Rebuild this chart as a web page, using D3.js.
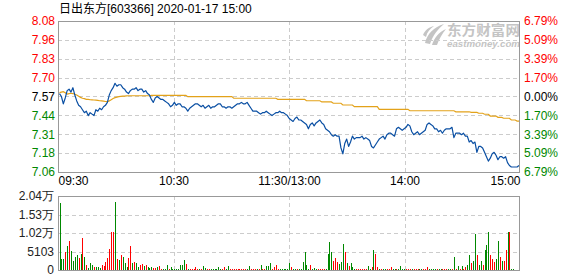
<!DOCTYPE html>
<html>
<head>
<meta charset="utf-8">
<script src="https://cdn.jsdelivr.net/npm/d3@7"></script>
<style>
body { margin: 0; background: #fff; }
svg { display: block; font-family: Arial, "Liberation Sans", "Noto Sans CJK SC", sans-serif; }
</style>
</head>
<body>
<svg width="578" height="276"></svg>
<script>
var title = "日出东方[603366] 2020-01-17 15:00";
var preClose = 7.57;
var priceRange = 0.514;
var priceLabels = ["8.08", "7.96", "7.83", "7.70", "7.57", "7.44", "7.31", "7.18", "7.06"];
var pctLabels = ["6.79%", "5.09%", "3.39%", "1.70%", "0.00%", "1.70%", "3.39%", "5.09%", "6.79%"];
var timeMinutes = [0, 60, 120, 180, 240];
var timeLabels = ["09:30", "10:30", "11:30/13:00", "14:00", "15:00"];
var volMax = 20412;
var volLabels = ["2.04万", "1.53万", "1.02万", "5103", "0"];

// one value per minute, 09:30 .. 15:00
var prices = [
  7.59, 7.57, 7.52, 7.56, 7.61, 7.62, 7.60, 7.63, 7.58, 7.54,
  7.51, 7.50, 7.48, 7.46, 7.47, 7.44, 7.46, 7.45, 7.44, 7.48,
  7.47, 7.49, 7.48, 7.50, 7.51, 7.53, 7.58, 7.61, 7.63, 7.66,
  7.64, 7.65, 7.65, 7.63, 7.62, 7.60, 7.59, 7.61, 7.62, 7.62,
  7.63, 7.61, 7.62, 7.62, 7.60, 7.61, 7.59, 7.58, 7.55, 7.53,
  7.56, 7.57, 7.56, 7.55, 7.55, 7.54, 7.53, 7.52, 7.50, 7.51,
  7.53, 7.51, 7.52, 7.52, 7.50, 7.50, 7.49, 7.47, 7.49, 7.50,
  7.51, 7.52, 7.52, 7.51, 7.50, 7.51, 7.49, 7.50, 7.51, 7.49,
  7.50, 7.50, 7.51, 7.52, 7.52, 7.50, 7.50, 7.49, 7.50, 7.50,
  7.49, 7.50, 7.51, 7.52, 7.52, 7.53, 7.52, 7.52, 7.53, 7.51,
  7.49, 7.47, 7.47, 7.47, 7.46, 7.45, 7.46, 7.46, 7.47, 7.46,
  7.45, 7.44, 7.45, 7.46, 7.46, 7.47, 7.46, 7.46, 7.45, 7.44,
  7.42, 7.41, 7.40, 7.42, 7.43, 7.41, 7.41, 7.40, 7.39, 7.38,
  7.35, 7.38, 7.39, 7.37, 7.39, 7.40, 7.41, 7.39, 7.38, 7.35,
  7.34, 7.33, 7.31, 7.30, 7.31, 7.30, 7.30, 7.22, 7.18, 7.25,
  7.28, 7.23, 7.26, 7.30, 7.28, 7.29, 7.29, 7.29, 7.30, 7.28,
  7.29, 7.28, 7.27, 7.23, 7.22, 7.24, 7.26, 7.28, 7.29, 7.30,
  7.28, 7.31, 7.32, 7.32, 7.31, 7.30, 7.35, 7.36, 7.35, 7.34,
  7.35, 7.36, 7.38, 7.37, 7.33, 7.31, 7.32, 7.33, 7.31, 7.32,
  7.33, 7.34, 7.38, 7.39, 7.38, 7.37, 7.35, 7.35, 7.33, 7.34,
  7.32, 7.34, 7.35, 7.35, 7.35, 7.36, 7.29, 7.32, 7.32, 7.32,
  7.31, 7.32, 7.30, 7.30, 7.26, 7.27, 7.25, 7.26, 7.19, 7.23,
  7.23, 7.22, 7.19, 7.16, 7.13, 7.15, 7.18, 7.19, 7.17, 7.14,
  7.16, 7.16, 7.15, 7.16, 7.12, 7.10, 7.09, 7.09, 7.09, 7.09,
  7.10
];

var avgPrices = [
  7.596, 7.600, 7.603, 7.595, 7.587, 7.590, 7.592, 7.590, 7.585, 7.580,
  7.572, 7.564, 7.558, 7.555, 7.551, 7.550, 7.548, 7.547, 7.546, 7.545,
  7.543, 7.541, 7.540, 7.538, 7.536, 7.535, 7.540, 7.548, 7.556, 7.562,
  7.566, 7.569, 7.571, 7.572, 7.573, 7.574, 7.575, 7.575, 7.575, 7.575,
  7.575, 7.575, 7.575, 7.575, 7.575, 7.575, 7.575, 7.575, 7.578, 7.578,
  7.578, 7.578, 7.578, 7.578, 7.578, 7.578, 7.578, 7.578, 7.578, 7.578,
  7.578, 7.578, 7.578, 7.578, 7.578, 7.578, 7.578, 7.569, 7.569, 7.569,
  7.569, 7.569, 7.569, 7.569, 7.569, 7.569, 7.569, 7.569, 7.569, 7.569,
  7.569, 7.569, 7.569, 7.569, 7.569, 7.569, 7.569, 7.569, 7.569, 7.569,
  7.569, 7.558, 7.558, 7.558, 7.558, 7.558, 7.558, 7.558, 7.558, 7.558,
  7.558, 7.558, 7.558, 7.558, 7.558, 7.558, 7.558, 7.558, 7.558, 7.558,
  7.558, 7.558, 7.558, 7.558, 7.551, 7.551, 7.551, 7.551, 7.551, 7.551,
  7.551, 7.551, 7.551, 7.551, 7.551, 7.551, 7.551, 7.551, 7.551, 7.541,
  7.541, 7.541, 7.541, 7.541, 7.541, 7.541, 7.541, 7.533, 7.533, 7.533,
  7.533, 7.533, 7.533, 7.524, 7.524, 7.524, 7.524, 7.524, 7.512, 7.512,
  7.512, 7.512, 7.512, 7.512, 7.501, 7.501, 7.501, 7.501, 7.501, 7.501,
  7.501, 7.501, 7.501, 7.501, 7.501, 7.501, 7.501, 7.483, 7.483, 7.483,
  7.483, 7.483, 7.483, 7.483, 7.483, 7.483, 7.483, 7.483, 7.483, 7.483,
  7.483, 7.483, 7.483, 7.473, 7.473, 7.473, 7.473, 7.473, 7.473, 7.473,
  7.473, 7.473, 7.473, 7.473, 7.473, 7.473, 7.473, 7.473, 7.473, 7.473,
  7.473, 7.473, 7.473, 7.473, 7.473, 7.473, 7.473, 7.466, 7.466, 7.466,
  7.466, 7.466, 7.466, 7.466, 7.466, 7.462, 7.462, 7.462, 7.462, 7.456,
  7.456, 7.456, 7.449, 7.449, 7.449, 7.437, 7.437, 7.437, 7.437, 7.428,
  7.428, 7.428, 7.422, 7.422, 7.422, 7.422, 7.410, 7.410, 7.410, 7.403,
  7.403
];

var volumes = [
  18560, 3030, 3030, 5050, 6620, 8090, 5240, 2570, 3680, 4140,
  3220, 4410, 8920, 3680, 1380, 550, 2020, 1380, 740, 740,
  740, 600, 1380, 1100, 2300, 3220, 5700, 10570, 10570, 18850,
  3030, 2760, 4140, 3490, 2020, 740, 3220, 6620, 1840, 2300,
  2020, 920, 1380, 1650, 1100, 1380, 920, 500, 740, 550,
  550, 740, 1100, 370, 370, 370, 1380, 370, 740, 370,
  370, 370, 370, 1380, 1380, 2760, 1650, 370, 400, 370,
  370, 740, 370, 370, 370, 1100, 550, 370, 370, 370,
  370, 370, 370, 740, 370, 370, 740, 370, 1100, 370,
  370, 370, 370, 370, 370, 370, 370, 300, 370, 1100,
  370, 370, 370, 370, 370, 1290, 370, 370, 1100, 1100,
  1840, 370, 740, 1380, 370, 370, 370, 300, 370, 370,
  1840, 740, 300, 300, 300, 300, 300, 2290, 5050, 1380,
  300, 1380, 300, 650, 300, 300, 300, 300, 300, 300,
  4410, 7800, 5050, 2570, 3220, 2300, 1650, 2300, 7170, 4960,
  1840, 1100, 1840, 740, 300, 300, 300, 300, 300, 300,
  300, 1100, 300, 740, 5520, 4410, 740, 300, 400, 300,
  300, 400, 300, 740, 300, 300, 400, 300, 1100, 300,
  300, 300, 300, 300, 400, 300, 300, 300, 300, 300,
  300, 300, 740, 300, 400, 300, 300, 300, 300, 400,
  300, 300, 300, 300, 300, 300, 3680, 400, 1100, 300,
  1100, 400, 920, 1380, 4140, 2020, 2570, 9930, 4140, 1380,
  2570, 1380, 5520, 6900, 10400, 4140, 3030, 2300, 3030, 8000,
  3680, 2570, 2570, 5520, 10400, 10400, 300, 300, 0, 0,
  10300
];

// 1 = red (up), 0 = green (down)
var volUp = [
  0, 0, 0, 1, 0, 1, 0, 0, 0, 0,
  1, 0, 1, 0, 1, 0, 0, 0, 1, 0,
  0, 0, 1, 1, 1, 1, 1, 1, 1, 0,
  1, 0, 1, 0, 0, 0, 1, 1, 0, 1,
  0, 0, 1, 1, 0, 1, 0, 0, 0, 1,
  1, 0, 1, 1, 0, 0, 0, 1, 0, 0,
  0, 0, 0, 0, 0, 0, 1, 0, 1, 1,
  1, 1, 1, 0, 1, 0, 0, 1, 1, 0,
  0, 0, 0, 0, 0, 1, 1, 0, 0, 1,
  1, 1, 1, 1, 1, 1, 1, 1, 0, 0,
  1, 1, 1, 0, 1, 0, 1, 1, 0, 0,
  0, 1, 1, 1, 1, 0, 0, 0, 0, 0,
  0, 1, 0, 0, 1, 0, 0, 0, 0, 0,
  0, 1, 0, 0, 0, 1, 1, 1, 1, 0,
  0, 0, 0, 1, 1, 1, 0, 0, 0, 1,
  0, 1, 0, 0, 0, 1, 1, 1, 1, 1,
  1, 0, 0, 1, 0, 1, 1, 0, 1, 0,
  0, 1, 1, 1, 0, 0, 1, 0, 0, 0,
  0, 1, 1, 1, 0, 1, 1, 1, 0, 0,
  1, 1, 1, 0, 0, 0, 0, 1, 0, 0,
  1, 1, 1, 0, 0, 1, 0, 1, 0, 1,
  0, 1, 1, 0, 0, 1, 0, 0, 1, 0,
  0, 1, 0, 0, 0, 1, 1, 1, 0, 0,
  1, 0, 1, 1, 0, 1, 0, 0, 0, 0,
  1
];

var svg = d3.select("svg");
var left = 58, right = 520, pTop = 21, pBottom = 172, vTop = 196, vBottom = 270;
var red = "#f00", green = "#080", grid = "#ccc", frame = "#999";

var xt = d3.scaleLinear().domain([0, 240]).range([left, right]);
var x = d3.scaleLinear().domain([0, 240]).range([left + 1.5, right - 1]);
var y = d3.scaleLinear().domain([preClose - priceRange, preClose + priceRange]).range([pBottom, pTop]);
var yv = d3.scaleLinear().domain([0, volMax]).range([vBottom, vTop]);

var priceTicks = priceLabels.map(function(d, i) { return preClose + priceRange * (4 - i) / 4; });
var volTicks = volLabels.map(function(d, i) { return volMax * (4 - i) / 4; });

function labelColor(i) { return i < 4 ? red : (i == 4 ? "#000" : green); }

// title
svg.append("text")
    .attr("x", 59)
    .attr("y", 13)
    .attr("font-size", 12)
    .attr("fill", "#000")
    .text(title);

// watermark
var wm = svg.append("g").attr("transform", "translate(423,23)").attr("fill", "#c4c4c4");
wm.append("path").attr("d", "M2,20 C4,11 11,4 21,1 C15,6 10,12 7,21 Z");
wm.append("path").attr("d", "M9,22 C11,15 16,9 23,6 C19,11 16,16 14,22 Z");
wm.append("path").attr("d", "M0,12 C2,7 6,4 11,3 C7,6 4,9 3,14 Z");
wm.append("text")
    .attr("x", 24).attr("y", 12)
    .attr("font-size", 13.5).attr("font-weight", "bold")
    .attr("font-family", "'Noto Sans CJK SC', sans-serif")
    .attr("textLength", 73).attr("lengthAdjust", "spacingAndGlyphs")
    .text("东方财富网");
wm.append("text")
    .attr("x", 24).attr("y", 24)
    .attr("font-size", 8.5).attr("font-weight", "bold").attr("font-style", "italic")
    .attr("textLength", 73).attr("lengthAdjust", "spacingAndGlyphs")
    .text("eastmoney.com");

// grid lines
var gridG = svg.append("g")
    .attr("stroke", grid)
    .attr("stroke-dasharray", "4,3")
    .attr("shape-rendering", "crispEdges");

gridG.selectAll("line.ph")
    .data(priceTicks.slice(1, -1))
    .enter().append("line")
    .attr("x1", left).attr("x2", right)
    .attr("y1", function(d) { return Math.round(y(d)) + 0.5; })
    .attr("y2", function(d) { return Math.round(y(d)) + 0.5; });

gridG.selectAll("line.vh")
    .data(volTicks.slice(1, -1))
    .enter().append("line")
    .attr("x1", left).attr("x2", right)
    .attr("y1", function(d) { return Math.round(yv(d)) + 0.5; })
    .attr("y2", function(d) { return Math.round(yv(d)) + 0.5; });

[[pTop, pBottom], [vTop, vBottom]].forEach(function(r) {
  gridG.selectAll(null)
      .data(timeMinutes.slice(1, -1))
      .enter().append("line")
      .attr("x1", function(d) { return Math.round(xt(d)) + 0.5; })
      .attr("x2", function(d) { return Math.round(xt(d)) + 0.5; })
      .attr("y1", r[0]).attr("y2", r[1]);
});

// volume bars
svg.append("g")
    .attr("shape-rendering", "crispEdges")
  .selectAll("rect")
  .data(volumes)
  .enter().append("rect")
    .attr("x", function(d, i) { return Math.round(x(i)); })
    .attr("width", 1)
    .attr("y", function(d) { return yv(d); })
    .attr("height", function(d) { return yv(0) - yv(d); })
    .attr("fill", function(d, i) { return volUp[i] ? red : green; });

// average line and price line
svg.append("path")
    .datum(avgPrices)
    .attr("fill", "none")
    .attr("stroke", "#e3a21a")
    .attr("stroke-width", 1.2)
    .attr("d", d3.line().x(function(d, i) { return x(i); }).y(function(d) { return y(d); }));

svg.append("path")
    .datum(prices)
    .attr("fill", "none")
    .attr("stroke", "#0a4fa3")
    .attr("stroke-width", 1.2)
    .attr("stroke-linejoin", "round")
    .attr("d", d3.line().x(function(d, i) { return x(i); }).y(function(d) { return y(d); }));

// frames
svg.append("rect")
    .attr("x", left + 0.5).attr("y", pTop + 0.5)
    .attr("width", right - left - 1).attr("height", pBottom - pTop)
    .attr("fill", "none").attr("stroke", frame);
svg.append("rect")
    .attr("x", left + 0.5).attr("y", vTop + 0.5)
    .attr("width", right - left - 1).attr("height", vBottom - vTop)
    .attr("fill", "none").attr("stroke", frame);

// axes
var leftAxis = svg.append("g")
    .attr("transform", "translate(" + left + ",0)")
    .call(d3.axisLeft(y).tickValues(priceTicks).tickSize(0).tickPadding(3)
      .tickFormat(function(d, i) { return priceLabels[i]; }));

var rightAxis = svg.append("g")
    .attr("transform", "translate(" + right + ",0)")
    .call(d3.axisRight(y).tickValues(priceTicks).tickSize(0).tickPadding(4)
      .tickFormat(function(d, i) { return pctLabels[i]; }));

[leftAxis, rightAxis].forEach(function(a) {
  a.select(".domain").remove();
  a.selectAll("text")
      .attr("font-size", 12)
      .attr("font-family", null)
      .attr("fill", function(d, i) { return labelColor(i); });
});

var timeAxis = svg.append("g")
    .attr("transform", "translate(0," + pBottom + ")")
    .call(d3.axisBottom(xt).tickValues(timeMinutes).tickSize(0).tickPadding(4)
      .tickFormat(function(d, i) { return timeLabels[i]; }));
timeAxis.select(".domain").remove();
timeAxis.selectAll("text")
    .attr("font-size", 12)
    .attr("font-family", null)
    .attr("fill", "#000")
    .attr("text-anchor", function(d, i) { return i == 0 ? "start" : (i == timeMinutes.length - 1 ? "end" : "middle"); });

var volAxis = svg.append("g")
    .attr("transform", "translate(" + left + ",0)")
    .call(d3.axisLeft(yv).tickValues(volTicks).tickSize(0).tickPadding(4)
      .tickFormat(function(d, i) { return volLabels[i]; }));
volAxis.select(".domain").remove();
volAxis.selectAll("text")
    .attr("font-size", 12)
    .attr("font-family", null)
    .attr("fill", "#222");
</script>
</body>
</html>
